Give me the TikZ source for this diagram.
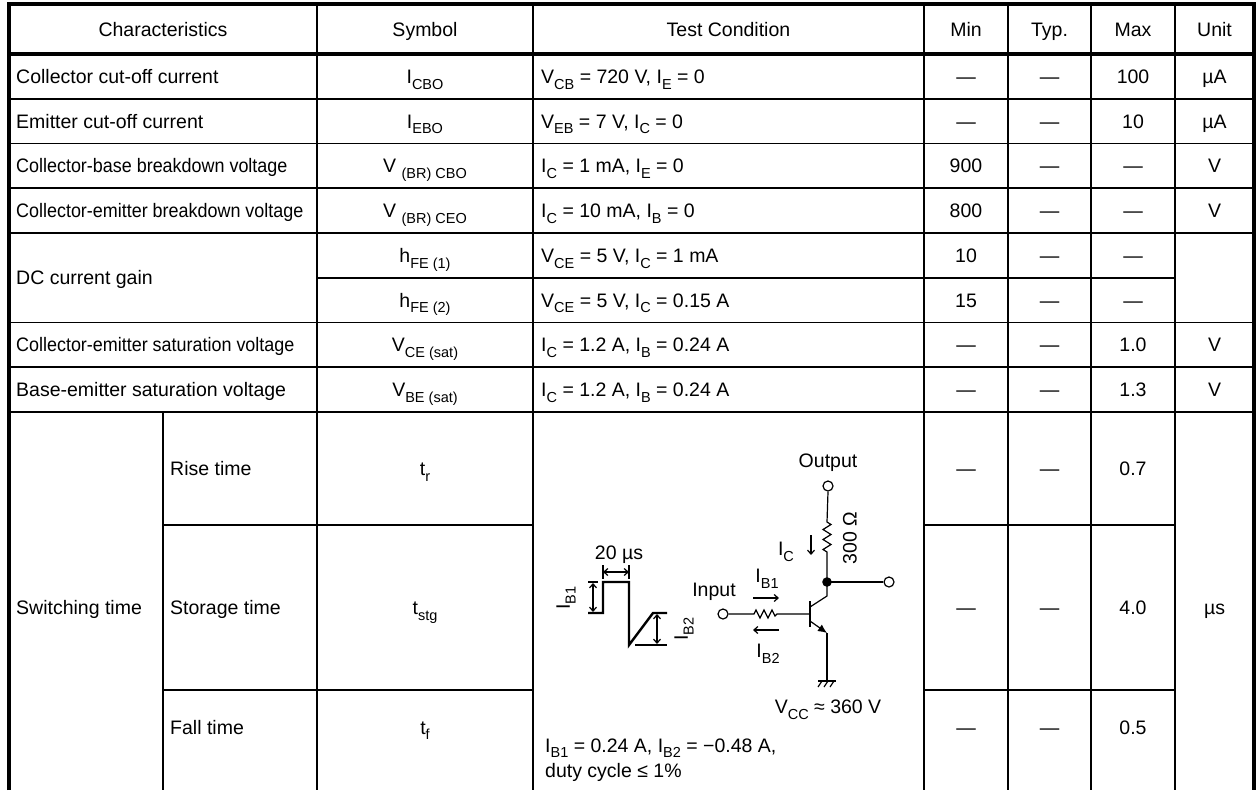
\documentclass[tikz,border=0pt]{standalone}
\usepackage{fontspec}
\setmainfont{Liberation Sans}
\usetikzlibrary{arrows.meta}
\newcommand{\lo}[1]{\raisebox{-0.3em}{\fontsize{14.5}{15}\selectfont #1}}
\newcommand{\nar}[1]{\scalebox{0.92}[1]{#1}}
\begin{document}
\begin{tikzpicture}[x=1pt,y=-1pt,
  every node/.style={font=\fontsize{19.5}{23}\selectfont, inner sep=0pt},
  lt/.style={anchor=base west},
  ct/.style={anchor=base},
  thinl/.style={line width=1.6pt},
  thickl/.style={line width=3.6pt},
  wire/.style={line width=1.2pt},
  wave/.style={line width=2.4pt, line join=miter},
  term/.style={circle, draw, line width=1.2pt, minimum size=10pt, fill=white},
  barb/.style={-{Straight Barb[length=4pt,width=7pt]}, line width=1.2pt},
  dbarb/.style={{Straight Barb[length=4pt,width=7pt]}-{Straight Barb[length=4pt,width=7pt]}, line width=1.2pt}]
\useasboundingbox (0,0) rectangle (1257,790);
\fill[white] (0,0) rectangle (1257,790);
% ---------------- grid ----------------
\foreach \x in {317,533,924,1008,1091,1175} \draw[thinl] (\x,4) -- (\x,790);
\draw[thinl] (163,412) -- (163,790);
\foreach \y in {98.75,143.5,188.25,233,322.5,367.25,412} \draw[thinl] (9,\y) -- (1254,\y);
\draw[thinl] (317,277.75) -- (1175,277.75);
\foreach \y in {525,690} {\draw[thinl] (163,\y) -- (533,\y); \draw[thinl] (924,\y) -- (1175,\y);}
\draw[thickl] (9,54) -- (1254,54);
\draw[thickl, line join=miter] (9,790) -- (9,4) -- (1254,4) -- (1254,790);
% ---------------- header ----------------
\node[ct] (hchar) at (163,36) {Characteristics};
\node[ct] (hsym) at (425,36) {Symbol};
\node[ct] (htest) at (728.5,36) {Test Condition};
\node[ct] (hmin) at (966,36) {Min};
\node[ct] (htyp) at (1049.5,36) {Typ.};
\node[ct] (hmax) at (1133,36) {Max};
\node[ct] (hunit) at (1214.5,36) {Unit};
% ---------------- rows ----------------
\node[lt] (c1) at (16,83.4) {Collector cut-off current};
\node[ct] (s1) at (425,83.4) {I\lo{CBO}};
\node[lt] (t1) at (541,83.4) {V\lo{CB} = 720 V, I\lo{E} = 0};
\node[ct] (n1) at (966,83.4) {—};
\node[ct] (y1) at (1049.5,83.4) {—};
\node[ct] (x1) at (1133,83.4) {100};
\node[ct] (u1) at (1214.5,83.4) {µA};

\node[lt] (c2) at (16,128.1) {Emitter cut-off current};
\node[ct] (s2) at (425,128.1) {I\lo{EBO}};
\node[lt] (t2) at (541,128.1) {V\lo{EB} = 7 V, I\lo{C} = 0};
\node[ct] (n2) at (966,128.1) {—};
\node[ct] (y2) at (1049.5,128.1) {—};
\node[ct] (x2) at (1133,128.1) {10};
\node[ct] (u2) at (1214.5,128.1) {µA};

\node[lt] (c3) at (16,172.9) {\nar{Collector-base breakdown voltage}};
\node[ct] (s3) at (425,172.9) {V \lo{(BR) CBO}};
\node[lt] (t3) at (541,172.9) {I\lo{C} = 1 mA, I\lo{E} = 0};
\node[ct] (n3) at (966,172.9) {900};
\node[ct] (y3) at (1049.5,172.9) {—};
\node[ct] (x3) at (1133,172.9) {—};
\node[ct] (u3) at (1214.5,172.9) {V};

\node[lt] (c4) at (16,217.6) {\nar{Collector-emitter breakdown voltage}};
\node[ct] (s4) at (425,217.6) {V \lo{(BR) CEO}};
\node[lt] (t4) at (541,217.6) {I\lo{C} = 10 mA, I\lo{B} = 0};
\node[ct] (n4) at (966,217.6) {800};
\node[ct] (y4) at (1049.5,217.6) {—};
\node[ct] (x4) at (1133,217.6) {—};
\node[ct] (u4) at (1214.5,217.6) {V};

\node[lt] (c5) at (16,284.75) {DC current gain};
\node[ct] (s5) at (425,262.4) {h\lo{FE (1)}};
\node[lt] (t5) at (541,262.4) {V\lo{CE} = 5 V, I\lo{C} = 1 mA};
\node[ct] (n5) at (966,262.4) {10};
\node[ct] (y5) at (1049.5,262.4) {—};
\node[ct] (x5) at (1133,262.4) {—};

\node[ct] (s6) at (425,307.1) {h\lo{FE (2)}};
\node[lt] (t6) at (541,307.1) {V\lo{CE} = 5 V, I\lo{C} = 0.15 A};
\node[ct] (n6) at (966,307.1) {15};
\node[ct] (y6) at (1049.5,307.1) {—};
\node[ct] (x6) at (1133,307.1) {—};

\node[lt] (c7) at (16,351.9) {\nar{Collector-emitter saturation voltage}};
\node[ct] (s7) at (425,351.9) {V\lo{CE (sat)}};
\node[lt] (t7) at (541,351.9) {I\lo{C} = 1.2 A, I\lo{B} = 0.24 A};
\node[ct] (n7) at (966,351.9) {—};
\node[ct] (y7) at (1049.5,351.9) {—};
\node[ct] (x7) at (1133,351.9) {1.0};
\node[ct] (u7) at (1214.5,351.9) {V};

\node[lt] (c8) at (16,396.6) {Base-emitter saturation voltage};
\node[ct] (s8) at (425,396.6) {V\lo{BE (sat)}};
\node[lt] (t8) at (541,396.6) {I\lo{C} = 1.2 A, I\lo{B} = 0.24 A};
\node[ct] (n8) at (966,396.6) {—};
\node[ct] (y8) at (1049.5,396.6) {—};
\node[ct] (x8) at (1133,396.6) {1.3};
\node[ct] (u8) at (1214.5,396.6) {V};

% switching
\node[lt] (c9) at (16,614.5) {Switching time};
\node[lt] (r1) at (170,475.5) {Rise time};
\node[lt] (r2) at (170,614.5) {Storage time};
\node[lt] (r3) at (170,734) {Fall time};
\node[ct] (s9) at (425,475.5) {t\lo{r}};
\node[ct] (s10) at (425,614.5) {t\lo{stg}};
\node[ct] (s11) at (425,734) {t\lo{f}};
\node[ct] (n9) at (966,475.5) {—};
\node[ct] (y9) at (1049.5,475.5) {—};
\node[ct] (x9) at (1133,475.5) {0.7};
\node[ct] (n10) at (966,614.5) {—};
\node[ct] (y10) at (1049.5,614.5) {—};
\node[ct] (x10) at (1133,614.5) {4.0};
\node[ct] (n11) at (966,734) {—};
\node[ct] (y11) at (1049.5,734) {—};
\node[ct] (x11) at (1133,734) {0.5};
\node[ct] (u9) at (1214.5,614.5) {µs};

% ---------------- circuit ----------------
\node (outlbl) at (828,463) {Output};
\node[term] (outc) at (828,486) {};
\node[term] (rc) at (889,582) {};
\node[term] (inc) at (723,614) {};
\fill (827,582) circle (4.8pt);
\coordinate (jn) at (827,582);
\coordinate (rtop) at (827,522);
\coordinate (rbot) at (827,552);
\draw[wire] (outc.south) -- (rtop)
  -- (831,524.5) -- (823,529.5) -- (831,534.5) -- (823,539.5) -- (831,544.5) -- (823,549.5) -- (rbot) -- (jn);
\draw[wire] (jn) -- (rc.west);
\node[rotate=90] (rlbl) at (850,538) {300 Ω};
\node (iclbl) at (786,552) {I\lo{C}};
\draw[barb] (811,535) -- (811,555);
% transistor
\coordinate (bar1) at (810,601);
\coordinate (bar2) at (810,627);
\draw[line width=2.6pt] (bar1) -- (bar2);
\coordinate (col) at (827,596);
\coordinate (emi) at (827,633);
\draw[wire] (jn) -- (col) -- (810,607);
\draw[wire, -{Latex[length=9pt,width=8pt]}] (810,621) -- (emi);
\coordinate (gnd) at (827,681);
\draw[wire] (emi) -- (gnd);
\draw[wire] (818,681) -- (836,681);
\draw[wire] (822,681) -- (818,687) (828,681) -- (824,687) (834,681) -- (830,687);
% base
\draw[wire] (inc.east) -- (754,614) -- (756,610) -- (760,618) -- (764,610) -- (768,618) -- (772,610) -- (775,616) -- (777,614) -- (810,614);
\node (inlbl) at (714,592) {Input};
\node (ib1lbl) at (767,579) {I\lo{B1}};
\draw[barb] (753,598) -- (779,598);
\node (ib2lbl) at (768,654) {I\lo{B2}};
\draw[barb] (779,630) -- (753,630);
\node (vcc) at (828,710) {V\lo{CC} ≈ 360 V};
% waveform
\draw[wave] (588,613) -- (603,613) -- (603,582) -- (629,582) -- (629,645) -- (653,613) -- (667,613);
\draw[wire] (588,582) -- (598,582);
\draw[dbarb] (593,583) -- (593,612);
\node[rotate=90] (wib1) at (566,598) {I\lo{B1}};
\draw[wire] (635,645) -- (667,645);
\draw[dbarb] (657,614) -- (657,644);
\node[rotate=90] (wib2) at (684,629) {I\lo{B2}};
\node (t20) at (619,555) {20 µs};
\draw[wire] (603,565) -- (603,579) (629,565) -- (629,579);
\draw[dbarb] (603,572) -- (629,572);
% notes
\node[lt] (note1) at (545,752) {I\lo{B1} = 0.24 A, I\lo{B2} = −0.48 A,};
\node[lt] (note2) at (545,777) {duty cycle ≤ 1\%};
\end{tikzpicture}
\end{document}
